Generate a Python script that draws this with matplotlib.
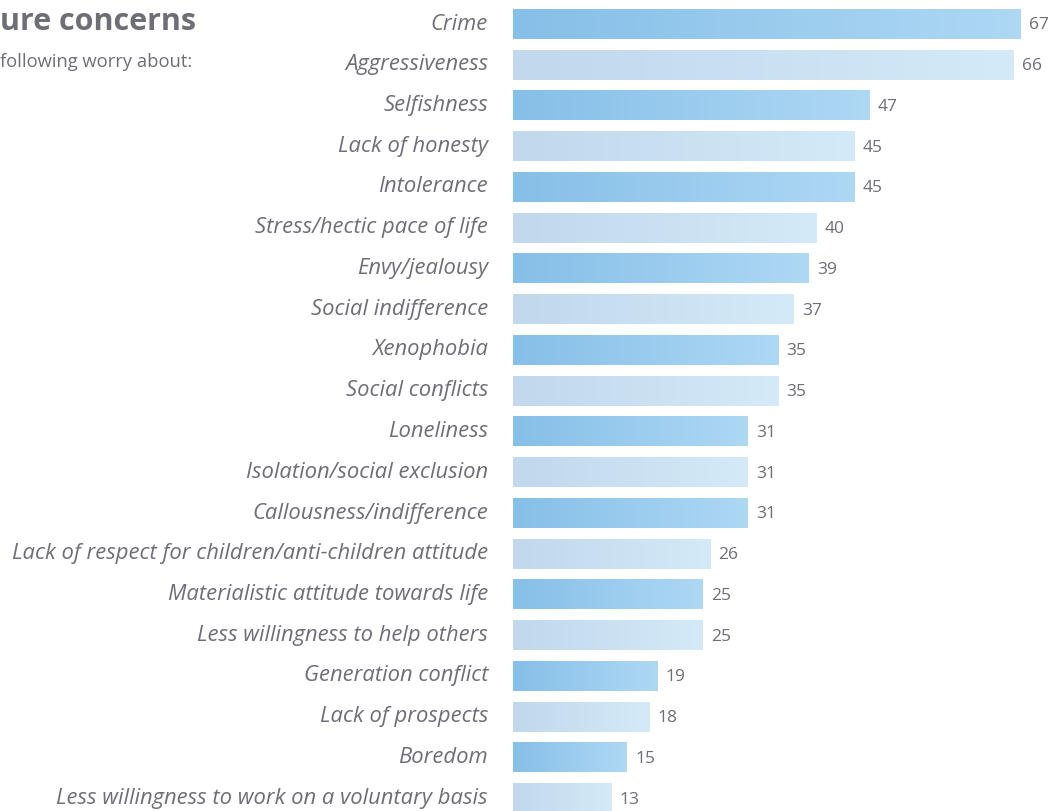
import numpy as np
import matplotlib
matplotlib.use('Agg')
from matplotlib import pyplot as plt
from matplotlib.colors import LinearSegmentedColormap

plt.rcParams['font.family'] = ['Open Sans', 'DejaVu Sans']

# Concerns and share of respondents (%)
concerns = ['Crime', 'Aggressiveness', 'Selfishness', 'Lack of honesty',
            'Intolerance', 'Stress/hectic pace of life', 'Envy/jealousy',
            'Social indifference', 'Xenophobia', 'Social conflicts',
            'Loneliness', 'Isolation/social exclusion',
            'Callousness/indifference',
            'Lack of respect for children/anti-children attitude',
            'Materialistic attitude towards life',
            'Less willingness to help others', 'Generation conflict',
            'Lack of prospects', 'Boredom',
            'Less willingness to work on a voluntary basis']
shares = [67, 66, 47, 45, 45, 40, 39, 37, 35, 35,
          31, 31, 31, 26, 25, 25, 19, 18, 15, 13]

text_grey = '#6d6e76'
dark_cmap = LinearSegmentedColormap.from_list('dark', ['#86bfe8', '#aed8f4'])
light_cmap = LinearSegmentedColormap.from_list('light', ['#c1d8ed', '#d4eaf8'])

W, H = 1061, 811
fig = plt.figure(figsize=(W / 100, H / 100), dpi=100)
x0 = 513
ax = fig.add_axes([x0 / W, 0, 1 - x0 / W, 1])

px_per_unit = 7.58
pitch = 40.75
first_center = 24
bar_h = 30 / pitch
grad = np.linspace(0, 1, 256).reshape(1, -1)

for i, (name, val) in enumerate(zip(concerns, shares)):
    cmap = dark_cmap if i % 2 == 0 else light_cmap
    ax.imshow(grad, cmap=cmap, aspect='auto', interpolation='bilinear',
              extent=(0, val, i + bar_h / 2, i - bar_h / 2), zorder=2)
    ax.annotate(name, (0, i), xytext=(-18, 0), textcoords='offset points',
                ha='right', va='center', fontsize=15.8, style='italic',
                color=text_grey)
    ax.annotate(str(val), (val, i), xytext=(6, -1), textcoords='offset points',
                ha='left', va='center', fontsize=12.5, color=text_grey)

ax.set_xlim(0, (W - x0) / px_per_unit)
ax.set_ylim((H - first_center) / pitch, -first_center / pitch)
ax.axis('off')

# Heading (partly cut off at the left edge)
fig.text(0, 1 - 22 / H, 'ure concerns', ha='left', va='center',
         fontsize=22, fontweight='bold', color=text_grey)
fig.text(0, 1 - 62 / H, 'following worry about:', ha='left', va='center',
         fontsize=13.2, color=text_grey)

fig.savefig('out.png', dpi=100)
